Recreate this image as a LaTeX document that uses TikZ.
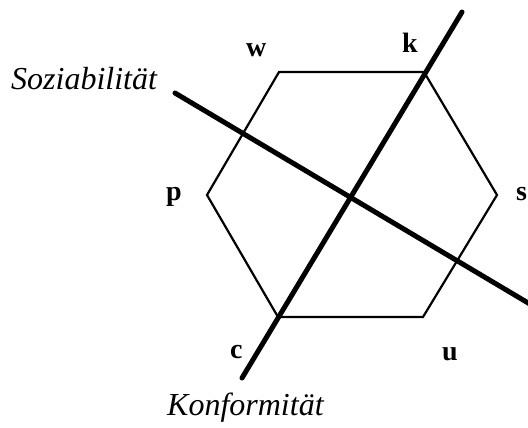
\documentclass[tikz,border=0pt]{standalone}
\usepackage{fontspec}
\setmainfont{Liberation Serif}
\begin{document}
\begin{tikzpicture}[x=1pt, y=-1pt,
    axis/.style={line width=5pt, line cap=round},
    corner/.style={font=\fontsize{28}{28}\selectfont\bfseries, inner sep=0pt, anchor=base west},
    axisname/.style={font=\fontsize{32}{32}\selectfont\itshape, inner sep=0pt, anchor=base west}]
    \useasboundingbox (0,0) rectangle (528,428);
    % hexagon corners
    \coordinate (W) at (279,72);
    \coordinate (K) at (424,72);
    \coordinate (S) at (497,195);
    \coordinate (U) at (423,317);
    \coordinate (C) at (278,317);
    \coordinate (P) at (207,195);
    \draw[line width=2.2pt, line join=miter] (W) -- (K) -- (S) -- (U) -- (C) -- (P) -- cycle;
    % axis ends
    \coordinate (konfA) at (242,378);
    \coordinate (konfB) at (462,12);
    \coordinate (sozA) at (175,93);
    \coordinate (sozB) at (545,313);
    \draw[axis] (konfA) -- (konfB);
    \draw[axis] (sozA) -- (sozB);
    % labels
    \node[corner] (lw) at (246,57) {w};
    \node[corner] (lk) at (402,53) {k};
    \node[corner] (ls) at (516,200) {s};
    \node[corner] (lu) at (442,360) {u};
    \node[corner] (lc) at (230,358) {c};
    \node[corner] (lp) at (166,200) {p};
    \node[axisname] (soz) at (11,90) {Soziabilität};
    \node[axisname] (konf) at (167,415) {Konformität};
\end{tikzpicture}
\end{document}
